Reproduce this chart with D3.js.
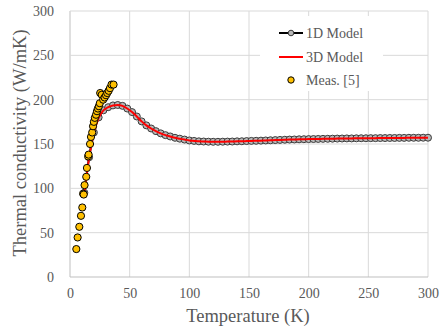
<!DOCTYPE html>
<html>
<head>
<meta charset="utf-8">
<script src="https://cdnjs.cloudflare.com/ajax/libs/d3/7.8.5/d3.min.js"></script>
<style>
  body { margin: 0; background: #fff; }
  text { font-family: "Liberation Serif", "Times New Roman", serif; fill: #595959; }
</style>
</head>
<body>
<svg width="440" height="327"></svg>
<script>
// Model temperatures (K)
const modelT = [12, 16, 20, 24, 28, 32, 36, 40, 44, 48, 52, 56, 60, 64, 68, 72, 76, 80, 84, 88,
  92, 96, 100, 104, 108, 112, 116, 120, 124, 128, 132, 136, 140, 144, 148, 152, 156, 160, 164, 168,
  172, 176, 180, 184, 188, 192, 196, 200, 204, 208, 212, 216, 220, 224, 228, 232, 236, 240, 244, 248,
  252, 256, 260, 264, 268, 272, 276, 280, 284, 288, 292, 296, 300];

// 1D model thermal conductivity (W/mK)
const model1D = [95, 135, 163, 180, 188, 191.5, 193.5, 194, 193, 190, 186, 181, 175.5, 171, 167.5, 164.5, 162, 160, 158.5, 157,
  156, 155, 154, 153.5, 153, 152.8, 152.6, 152.5, 152.5, 152.6, 152.7, 152.8, 153, 153.1, 153.3, 153.5, 153.6, 153.8, 154, 154.2,
  154.4, 154.6, 154.8, 155, 155.1, 155.3, 155.4, 155.5, 155.6, 155.7, 155.8, 155.9, 156, 156.1, 156.2, 156.3, 156.3, 156.4, 156.5, 156.5,
  156.6, 156.6, 156.7, 156.7, 156.8, 156.8, 156.9, 156.9, 157, 157, 157, 157.1, 157.1];

// 3D model thermal conductivity (W/mK)
const model3D = [94, 134, 162, 179.5, 188, 191.5, 193.5, 194, 193, 190, 186, 181, 175.5, 171, 167.5, 164.5, 162, 160, 158.5, 157,
  156, 155, 154, 153.5, 153, 152.8, 152.6, 152.5, 152.5, 152.6, 152.7, 152.8, 153, 153.1, 153.3, 153.5, 153.6, 153.8, 154, 154.2,
  154.4, 154.6, 154.8, 155, 155.1, 155.3, 155.4, 155.5, 155.6, 155.7, 155.8, 155.9, 156, 156.1, 156.2, 156.3, 156.3, 156.4, 156.5, 156.5,
  156.6, 156.6, 156.7, 156.7, 156.8, 156.8, 156.9, 156.9, 157, 157, 157, 157.1, 157.1];

// Measurements [5]
const measT = [5.3, 6.4, 7.8, 9.2, 10.3, 11.0, 11.5, 12.2, 13.6, 14.2, 15.2, 15.6, 16.8, 17.6, 18.6, 19.3, 20.0,
  20.8, 21.8, 22.6, 23.4, 24.2, 25.0, 25.3, 26.6, 27.8, 29.0, 30.2, 31.2, 32.4, 33.5, 34.8, 36.5];
const measK = [31.5, 44.6, 56.6, 69, 78.4, 94, 93, 103.6, 113, 123, 136, 138, 150, 158, 163, 170, 175,
  179.5, 183, 187, 190, 192.6, 196, 207.5, 205.5, 200, 202.5, 205, 207.5, 210, 213, 217, 217];

// Tick values
const xTicks = [0, 50, 100, 150, 200, 250, 300];
const yTicks = [0, 50, 100, 150, 200, 250, 300];

const legendItems = ["1D Model", "3D Model", "Meas. [5]"];

var svg = d3.select("svg"),
    margin = {top: 11, right: 12, bottom: 50, left: 70},
    width = +svg.attr("width") - margin.left - margin.right,
    height = +svg.attr("height") - margin.top - margin.bottom,
    g = svg.append("g").attr("transform", "translate(" + margin.left + "," + margin.top + ")");

var x = d3.scaleLinear().domain([0, 300]).range([0, width]),
    y = d3.scaleLinear().domain([0, 300]).range([height, 0]);

// Gridlines
g.append("g")
    .selectAll("line.gx")
    .data(xTicks)
    .enter().append("line")
    .attr("x1", d => x(d)).attr("x2", d => x(d))
    .attr("y1", 0).attr("y2", height)
    .attr("stroke", d => d === 0 ? "#bfbfbf" : "#d9d9d9");

g.append("g")
    .selectAll("line.gy")
    .data(yTicks)
    .enter().append("line")
    .attr("x1", 0).attr("x2", width)
    .attr("y1", d => y(d)).attr("y2", d => y(d))
    .attr("stroke", d => d === 0 ? "#bfbfbf" : "#d9d9d9");

// Tick labels
g.append("g")
    .call(d3.axisBottom(x).tickValues(xTicks).tickSize(0).tickPadding(0))
    .attr("transform", "translate(0," + height + ")")
    .call(a => a.select(".domain").remove())
    .selectAll("text")
    .attr("y", 21).attr("dy", 0)
    .style("font-size", "14px")
    .style("font-family", "Liberation Serif, serif")
    .attr("fill", "#595959");

g.append("g")
    .call(d3.axisLeft(y).tickValues(yTicks).tickSize(0).tickPadding(0))
    .call(a => a.select(".domain").remove())
    .selectAll("text")
    .attr("x", -16)
    .style("font-size", "14px")
    .style("font-family", "Liberation Serif, serif")
    .attr("fill", "#595959");

// Axis titles
svg.append("text")
    .attr("x", margin.left + x(150) - 1)
    .attr("y", 322)
    .attr("text-anchor", "middle")
    .style("font-size", "18.5px")
    .text("Temperature (K)");

svg.append("text")
    .attr("transform", "translate(26,143) rotate(-90)")
    .attr("text-anchor", "middle")
    .style("font-size", "18.5px")
    .text("Thermal conductivity (W/mK)");

var model1 = modelT.map((t, i) => ({t: t, k: model1D[i]})),
    model3 = modelT.map((t, i) => ({t: t, k: model3D[i]})),
    meas = measT.map((t, i) => ({t: t, k: measK[i]}));

var line = d3.line()
    .curve(d3.curveMonotoneX)
    .x(d => x(d.t))
    .y(d => y(d.k));

// 1D model: black line with grey markers
g.append("path")
    .datum(model1)
    .attr("d", line)
    .attr("fill", "none")
    .attr("stroke", "#000")
    .attr("stroke-width", 2);

g.selectAll(".m1")
    .data(model1)
    .enter().append("circle")
    .attr("class", "m1")
    .attr("cx", d => x(d.t))
    .attr("cy", d => y(d.k))
    .attr("r", 3.5)
    .attr("fill", "#b8b8b8")
    .attr("stroke", "#3a3a3a")
    .attr("stroke-width", 1);

// 3D model: red line
g.append("path")
    .datum(model3)
    .attr("d", line)
    .attr("fill", "none")
    .attr("stroke", "#ff0000")
    .attr("stroke-width", 2);

// Measurements
g.selectAll(".ms")
    .data(meas)
    .enter().append("circle")
    .attr("class", "ms")
    .attr("cx", d => x(d.t))
    .attr("cy", d => y(d.k))
    .attr("r", 3.6)
    .attr("fill", "#ffc000")
    .attr("stroke", "#000")
    .attr("stroke-width", 1);

// Legend
var legend = svg.append("g");

legend.append("rect")
    .attr("x", 260).attr("y", 16)
    .attr("width", 123).attr("height", 75)
    .attr("fill", "#fff");

var rows = legend.selectAll(".row")
    .data(legendItems)
    .enter().append("g")
    .attr("transform", (d, i) => "translate(279," + [33, 57, 80][i] + ")");

rows.append("text")
    .attr("x", 27)
    .attr("dy", "0.33em")
    .style("font-size", "14px")
    .text(d => d);

rows.filter((d, i) => i === 0).append("line")
    .attr("x1", 0).attr("x2", 24)
    .attr("stroke", "#000").attr("stroke-width", 2);
rows.filter((d, i) => i === 0).append("circle")
    .attr("cx", 12).attr("r", 2.8)
    .attr("fill", "#b8b8b8").attr("stroke", "#3a3a3a");

rows.filter((d, i) => i === 1).append("line")
    .attr("x1", 0).attr("x2", 24)
    .attr("stroke", "#ff0000").attr("stroke-width", 2);

rows.filter((d, i) => i === 2).append("circle")
    .attr("cx", 12).attr("r", 3.2)
    .attr("fill", "#ffc000").attr("stroke", "#000");
</script>
</body>
</html>
